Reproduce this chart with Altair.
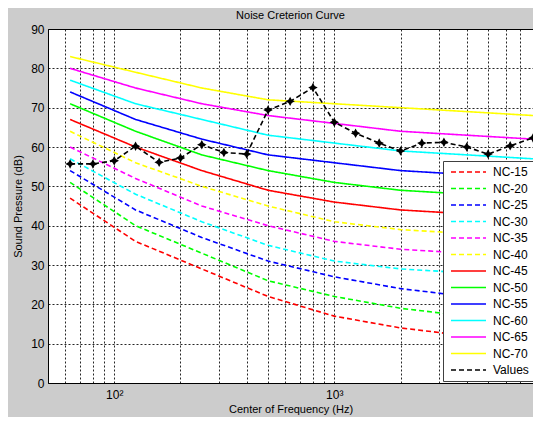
import altair as alt
import pandas as pd

# NC curve data (octave band centres)
nc_freq = [63, 125, 250, 500, 1000, 2000, 4000, 8000]
nc15 = [47, 36, 29, 22, 17, 14, 12, 11]
nc20 = [51, 40, 33, 26, 22, 19, 17, 16]
nc25 = [54, 44, 37, 31, 27, 24, 22, 21]
nc30 = [57, 48, 41, 35, 31, 29, 28, 27]
nc35 = [60, 52, 45, 40, 36, 34, 33, 32]
nc40 = [64, 56, 50, 45, 41, 39, 38, 37]
nc45 = [67, 60, 54, 49, 46, 44, 43, 42]
nc50 = [71, 64, 58, 54, 51, 49, 48, 47]
nc55 = [74, 67, 62, 58, 56, 54, 53, 52]
nc60 = [77, 71, 67, 63, 61, 59, 58, 57]
nc65 = [80, 75, 71, 68, 66, 64, 63, 62]
nc70 = [83, 79, 75, 72, 71, 70, 69, 68]

# Measured values (1/3 octave band centres)
val_freq = [63, 80, 100, 125, 160, 200, 250, 315, 400, 500, 630, 800,
            1000, 1250, 1600, 2000, 2500, 3150, 4000, 5000, 6300, 8000]
val_spl = [55.7, 55.7, 56.5, 60.2, 56.1, 57.2, 60.6, 58.6, 58.2, 69.4, 71.6, 75.1,
           66.3, 63.5, 61.0, 59.0, 61.0, 61.2, 60.0, 58.2, 60.3, 62.3]

nc_names = ["NC-15", "NC-20", "NC-25", "NC-30", "NC-35", "NC-40",
            "NC-45", "NC-50", "NC-55", "NC-60", "NC-65", "NC-70"]
nc_series = [nc15, nc20, nc25, nc30, nc35, nc40, nc45, nc50, nc55, nc60, nc65, nc70]
series_names = nc_names + ["Values"]

x_ticks = [50, 60, 70, 80, 90, 100, 200, 300, 400, 500, 600, 700, 800, 900,
           1000, 2000, 3000, 4000, 5000, 6000, 7000, 8000]
y_ticks = [0, 10, 20, 30, 40, 50, 60, 70, 80, 90]

rows = []
for name, vals in zip(nc_names, nc_series):
    for i, (f, v) in enumerate(zip(nc_freq, vals)):
        rows.append({"series": name, "freq": f, "spl": v, "order": i})
for i, (f, v) in enumerate(zip(val_freq, val_spl)):
    rows.append({"series": "Values", "freq": f, "spl": v, "order": i})
df = pd.DataFrame(rows)

colors = ["#ff0000", "#00ff00", "#0000ff", "#00ffff", "#ff00ff", "#ffff00"] * 2 + ["#000000"]
dashes = [[5, 3]] * 6 + [[1, 0]] * 6 + [[5, 3]]

font = "Liberation Sans"

x_scale = alt.Scale(type="log", domain=[50, 8000], nice=False)
y_scale = alt.Scale(domain=[0, 90], nice=False)

x_enc = alt.X("freq:Q", scale=x_scale,
              axis=alt.Axis(values=x_ticks, title="Center of Frequency (Hz)",
                            labelExpr="datum.value == 100 ? '10²' : datum.value == 1000 ? '10³' : ''",
                            labelOverlap=False, labelPadding=6, titlePadding=3,
                            ticks=False, domain=False,
                            grid=True, gridDash=[2, 2], gridColor="#000000", gridOpacity=0.85))
y_enc = alt.Y("spl:Q", scale=y_scale,
              axis=alt.Axis(values=y_ticks, tickCount=10, title="Sound Pressure (dB)",
                            labelOverlap=False, labelFlush=False,
                            labelPadding=4, titlePadding=7, ticks=False, domain=False,
                            grid=True, gridDash=[2, 2], gridColor="#000000", gridOpacity=0.85))

legend_line = "M-0.6,0H6.4"

lines = alt.Chart(df).mark_line(strokeWidth=1.6).encode(
    x=x_enc,
    y=y_enc,
    order="order:Q",
    color=alt.Color("series:N",
                    scale=alt.Scale(domain=series_names, range=colors),
                    legend=alt.Legend(title=None, orient="none", legendX=395, legendY=132,
                                      symbolType=legend_line, symbolSize=100,
                                      symbolStrokeWidth=1.6, labelFontSize=12,
                                      labelFont=font, labelColor="#000000",
                                      fillColor="#ffffff", strokeColor="#404040",
                                      padding=5, rowPadding=4.5, labelOffset=33)),
    strokeDash=alt.StrokeDash("series:N",
                              scale=alt.Scale(domain=series_names, range=dashes),
                              legend=alt.Legend(title=None)),
)

star = "M0,-1L0.35,-0.35L1,0L0.35,0.35L0,1L-0.35,0.35L-1,0L-0.35,-0.35Z"
points = alt.Chart(pd.DataFrame({"freq": val_freq, "spl": val_spl})).mark_point(
    shape=star, filled=True, color="#000000", size=90, opacity=1
).encode(x=x_enc, y=y_enc)

chart = alt.layer(lines, points).properties(
    width=485, height=354,
    title=alt.Title("Noise Creterion Curve", fontSize=11, fontWeight="normal",
                    font=font, color="#000000", offset=2),
    background="#cccccc",
    autosize=alt.AutoSizeParams(type="none"),
    padding={"left": 40, "top": 21, "right": 0, "bottom": 34},
).configure_view(
    stroke="#000000", strokeWidth=1, fill="#ffffff"
).configure_axis(
    labelFont=font, titleFont=font, labelFontSize=12, titleFontSize=11,
    labelColor="#000000", titleColor="#000000", titleFontWeight="normal"
)

chart.save("out.html", embed_options={"renderer": "svg", "actions": False})
